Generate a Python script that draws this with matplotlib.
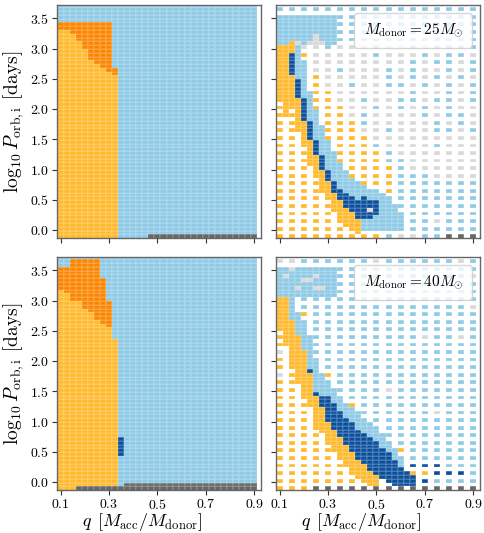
import numpy as np
import matplotlib
matplotlib.use("Agg")
import matplotlib.pyplot as plt
from matplotlib.colors import ListedColormap, BoundaryNorm

plt.rcParams["font.family"] = "serif"
plt.rcParams["font.serif"] = ["cmr10"]
plt.rcParams["mathtext.fontset"] = "cm"
plt.rcParams["axes.formatter.use_mathtext"] = True

# ---- grid ------------------------------------------------------------
q_vals = np.round(np.arange(0.1, 0.9001, 0.025), 4)        # 33 columns
logp_vals = np.round(np.arange(-0.1, 3.72, 0.0625), 4)     # 62 rows

# class codes: b light blue, y yellow, o orange, d dark blue, g light grey, k dark grey
class_keys = "byodgk"
class_colors = ["#8ecae6", "#ffb92b", "#fb8500", "#0a4f9c", "#d9d9d9", "#666666"]

# ---- left panels: classifier map -------------------------------------
left25_yellow_top = [3.32, 3.32, 3.25, 3.12, 3.00, 2.81, 2.75, 2.68, 2.63, 2.56]
left25_orange_top = [3.44, 3.44, 3.44, 3.44, 3.44, 3.44, 3.44, 3.44, 3.44, 2.68]
left25_grey = [(15, 32, -0.07)]            # (first col, last col, top log P)
left25_darkblue = []

left40_yellow_top = [3.20, 3.14, 3.02, 2.97, 2.89, 2.78, 2.70, 2.65, 2.56, 2.38]
left40_orange_top = [3.58, 3.58, 3.67, 3.67, 3.67, 3.67, 3.67, 3.39, 3.02, 2.38]
left40_grey = [(3, 10, -0.07), (11, 32, -0.01)]
left40_darkblue = [(10, 0.44, 0.75)]       # (col, bottom, top)

# ---- right panels: simulated grid ------------------------------------
# coarse grid points (q step 0.05, log P step 0.125), top row first
coarse25 = [
    "bbbbbbbbbbbbbbbbb",
    "bbbbbbbbbbbbbbbbb",
    "bbbbbbbbbbbbbbbbb",
    "bbbbbbbbbbbbbbbbb",
    "bbbbbbbbbbbbbbbbb",
    "yyggbgggbggbgbbbb",
    "yyygggggbgggbgbbg",
    "yyyggggggggbgbbgb",
    "yyyggbgggbgbggbgb",
    "yyyygggggbgbgbgbg",
    "yyyyggbggbbgbgbgb",
    "yyyyyggggggbggbgb",
    "yyyyyggbggbbgbbgb",
    "yyyyyyggbgbgbgbgg",
    "yyyyyygbggggbgbbg",
    "yyyyyyybgggggbgbg",
    "yyyyyyyggbgggbbgb",
    "yyyyyyyyggggggggg",
    "yyyyyyyybggggbggg",
    "yyyyyyyyybggggggg",
    "yyyyyyyyybbgggggg",
    "yyyyyyyyyybgggggg",
    "yyyyyyyyyybbbgggg",
    "yyyyyyyyyybbbbbbb",
    "yyyyyyyyyybbbbbbb",
    "yyyyyyyyyybbbbbbb",
    "yyyyyyyyyybbbbbbb",
    "yyyyyyyyyybbbbbbb",
    "yyyyyyyyyyybbgbbb",
    "yyyyyyyyyybbbbbbb",
    "yyyyyyyyybggbbkkk",
]
# refined block at wide orbits (rows 58..51, cols 0..9)
block25 = [
    "bbbbbbbbbb",
    "bbbbbbbbbb",
    "bbbbbbbbbb",
    "bbbbbbbbbb",
    "bbbbbbbbbb",
    "bbbbbbgbbb",
    "bbbbbbgbbb",
    "bbygbgggbb",
]
# refined band: per fine column, runs of (class, first row, last row)
band25 = [
    [("y", 36, 50)],
    [("y", 32, 50)],
    [("y", 34, 42), ("d", 43, 48), ("y", 49, 50)],
    [("y", 28, 36), ("d", 37, 41), ("b", 42, 50)],
    [("y", 24, 30), ("d", 31, 36), ("b", 37, 46)],
    [("y", 19, 25), ("d", 26, 30), ("b", 31, 38)],
    [("y", 16, 21), ("d", 22, 25), ("b", 26, 33)],
    [("y", 12, 17), ("d", 18, 21), ("b", 22, 29)],
    [("y", 10, 14), ("d", 15, 17), ("b", 18, 25)],
    [("y", 7, 11), ("d", 12, 14), ("b", 15, 22)],
    [("y", 5, 9), ("d", 10, 12), ("b", 13, 19)],
    [("y", 3, 7), ("d", 8, 11), ("b", 12, 17)],
    [("y", 2, 6), ("d", 7, 10), ("b", 11, 15)],
    [("y", 1, 4), ("d", 5, 9), ("b", 10, 14)],
    [("b", 2, 4), ("d", 5, 10), ("b", 11, 13)],
    [("b", 2, 4), ("d", 5, 6), ("g", 7, 7), ("d", 8, 9), ("b", 10, 12)],
    [("b", 2, 5), ("d", 6, 9), ("b", 10, 12)],
    [("b", 2, 11)],
    [("b", 2, 10)],
    [("b", 2, 8)],
    [("b", 2, 6)],
]

coarse40 = [
    "ggbbbbbbgbbbbbbgb",
    "bbbbbbbbbbbbbbbbb",
    "bbbbbbbbbbbbbbbbg",
    "bbbbbbbbbbbbbbbbb",
    "bbbbbbbbbbbbbbbbb",
    "yybbbbbbbbbbbbbbb",
    "yybbbbbbbbbbbbbbg",
    "yyybbbbbbbbbbbbbb",
    "yybbbbbbbbbbbbbbb",
    "yyybbbbbbbbbbbbbb",
    "yyybbbbbbbbbgbbgb",
    "yyybbbbbbbbbbbbbb",
    "gyybbbbbbbbbbbbbb",
    "yyyybbbbbbbbbbbbb",
    "yyyybbbbbbbbbbbbb",
    "gyyyybbbbbbbbbbbb",
    "yyyyybbbbbbbbbbbb",
    "yyyyybbbbgbbbbbbb",
    "yyyyyybbbbbbbbbbb",
    "yyyyyyybbbbbbbbbb",
    "yyyyyyybbbbbbgbbb",
    "yyyyyyyybbbbbbbbb",
    "yyyyyyyybbbbbbbbb",
    "yyyyyyyyybbbbbbbb",
    "yyyyyyyyybbbbbbbb",
    "yyyyyyyyyyybbbbbb",
    "yyyyyyyyyydbbbbbb",
    "yyyyyyyyyyydddbbb",
    "yyyyyyyyyyyyydddb",
    "yyyyyyyyyyyydbbbb",
    "yyykkkkkkkkkkkkkk",
]
block40 = [
    "bbgbbbbbbb",
    "bbbbbbbbbb",
    "bgbbbbgbbb",
    "bbbbggbbbb",
    "bbbbbbbbbb",
    "bbbgbbggbb",
    "bbbbbbbbbb",
    "bbbbbbbbbb",
]
band40 = [
    [("y", 42, 50)],
    [("y", 38, 50)],
    [("y", 32, 44), ("b", 45, 50)],
    [("y", 28, 40), ("b", 41, 46)],
    [("y", 24, 36), ("b", 37, 44)],
    [("y", 22, 30), ("d", 31, 31), ("b", 32, 40)],
    [("y", 17, 24), ("d", 25, 25), ("b", 26, 34)],
    [("y", 15, 21), ("d", 22, 24), ("b", 25, 30)],
    [("y", 13, 17), ("d", 18, 24), ("b", 25, 28)],
    [("y", 10, 15), ("d", 16, 22), ("b", 23, 26)],
    [("y", 8, 13), ("d", 14, 20), ("b", 21, 24)],
    [("y", 6, 11), ("d", 12, 18), ("b", 19, 22)],
    [("y", 4, 9), ("d", 10, 17), ("b", 18, 21)],
    [("y", 3, 7), ("d", 8, 15), ("b", 16, 20)],
    [("y", 2, 6), ("d", 7, 14), ("b", 15, 18)],
    [("y", 1, 4), ("d", 5, 13), ("b", 14, 17)],
    [("y", 1, 3), ("d", 4, 12), ("b", 13, 15)],
    [("d", 3, 10), ("b", 11, 14)],
    [("d", 2, 9), ("b", 10, 12)],
    [("d", 1, 7), ("b", 8, 10)],
    [("d", 1, 5), ("b", 6, 8)],
    [("d", 1, 4)],
    [("d", 1, 3)],
]


def left_map(yellow_top, orange_top, grey, darkblue):
    cls = np.zeros((len(logp_vals), len(q_vals)))
    for i, (yt, ot) in enumerate(zip(yellow_top, orange_top)):
        cls[logp_vals < ot, i] = 2
        cls[logp_vals < yt, i] = 1
    for c0, c1, top in grey:
        cls[logp_vals < top, c0:c1 + 1] = 5
    for c, lo, hi in darkblue:
        cls[(logp_vals > lo) & (logp_vals < hi), c] = 3
    return cls


def right_map(coarse, block, band):
    cls = np.full((len(logp_vals), len(q_vals)), np.nan)
    for r, row in enumerate(coarse):
        j = 2 * (len(coarse) - 1 - r)
        for c, ch in enumerate(row):
            cls[j, 2 * c] = class_keys.index(ch)
    for r, row in enumerate(block):
        for c, ch in enumerate(row):
            cls[58 - r, c] = class_keys.index(ch)
    for i, runs in enumerate(band):
        for ch, lo, hi in runs:
            cls[lo:hi + 1, i] = class_keys.index(ch)
    return np.ma.masked_invalid(cls)


q_edges = np.append(q_vals - 0.0125, q_vals[-1] + 0.0125)
p_edges = np.append(logp_vals - 0.03125, logp_vals[-1] + 0.03125)
p_edges[0] = -0.15

cmap = ListedColormap(class_colors)
norm = BoundaryNorm(np.arange(-0.5, 6.5), cmap.N)

fig = plt.figure(figsize=(4.84, 5.33), dpi=100)
W, H = 484, 533
boxes = [(57, 5, 204, 233), (276, 5, 204, 233), (57, 257, 204, 233), (276, 257, 204, 233)]
axes = [fig.add_axes([x / W, 1 - (y + h) / H, w / W, h / H]) for x, y, w, h in boxes]

maps = [
    left_map(left25_yellow_top, left25_orange_top, left25_grey, left25_darkblue),
    right_map(coarse25, block25, band25),
    left_map(left40_yellow_top, left40_orange_top, left40_grey, left40_darkblue),
    right_map(coarse40, block40, band40),
]
labels = [None, r"$M_{\rm donor} = 25M_{\odot}$", None, r"$M_{\rm donor} = 40M_{\odot}$"]

for k, (ax, cls) in enumerate(zip(axes, maps)):
    ax.pcolormesh(q_edges, p_edges, cls, cmap=cmap, norm=norm,
                  edgecolors=(1, 1, 1, 0.12), linewidth=0.3)
    ax.set_xlim(0.085, 0.928)
    ax.set_ylim(-0.13, 3.72)
    ax.set_xticks([0.1, 0.3, 0.5, 0.7, 0.9])
    ax.set_yticks(np.arange(0, 3.51, 0.5))
    ax.tick_params(direction="out", length=3.5, width=0.8, labelsize=10, color="0.2", pad=2)
    for s in ax.spines.values():
        s.set_color("0.4")
        s.set_linewidth(1.0)
    if k % 2 == 1:
        ax.set_yticklabels([])
        ax.plot([], [], " ", label=labels[k])
        ax.legend(loc="upper right", handlelength=0, handletextpad=0, fontsize=11,
                  borderpad=0.6, edgecolor="0.8")
    else:
        ax.set_ylabel(r"$\log_{10}P_{\rm orb,i}$ [days]", fontsize=14, labelpad=3)
    if k < 2:
        ax.set_xticklabels([])
    else:
        ax.set_xlabel(r"$q\;\,[M_{\rm acc}/M_{\rm donor}]$", fontsize=13)
        ax.xaxis.set_label_coords(0.42, -0.088)

fig.savefig("out.png", dpi=100)
